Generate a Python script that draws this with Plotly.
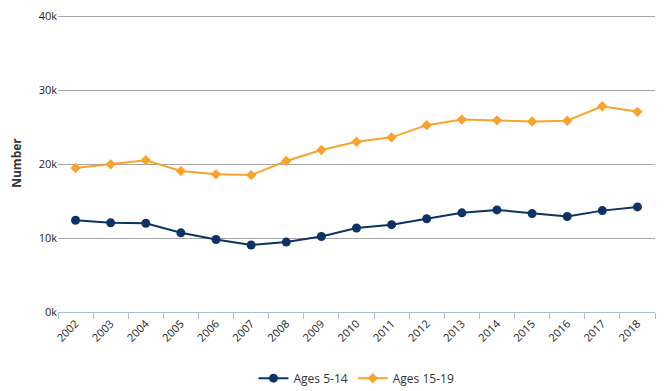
import plotly.graph_objects as go

years = [str(y) for y in range(2002, 2019)]
ages_5_14 = [12400, 12050, 12000, 10700, 9800, 9050, 9450, 10200, 11350, 11800,
             12600, 13400, 13800, 13300, 12900, 13700, 14200]
ages_15_19 = [19450, 19950, 20500, 19050, 18600, 18500, 20400, 21900, 23000, 23600,
              25250, 26000, 25900, 25750, 25850, 27800, 27050]
y_ticks = [0, 10000, 20000, 30000, 40000]
y_labels = ["0k", "10k", "20k", "30k", "40k"]

font = "Open Sans, Segoe UI, DejaVu Sans, sans-serif"

fig = go.Figure()
fig.add_trace(go.Scatter(
    x=years, y=ages_5_14, name="Ages 5-14", mode="lines+markers",
    line=dict(color="#0c3266", width=2),
    marker=dict(symbol="circle", size=9, color="#0c3266"),
))
fig.add_trace(go.Scatter(
    x=years, y=ages_15_19, name="Ages 15-19", mode="lines+markers",
    line=dict(color="#f8a32e", width=2),
    marker=dict(symbol="diamond", size=8, color="#f8a32e"),
))

# page body has an 8px margin, so the figure is sized to fit the window
fig.update_layout(
    width=662, height=383,
    margin=dict(l=50, r=15, t=6, b=79, autoexpand=False),
    paper_bgcolor="white", plot_bgcolor="white",
    font=dict(family=font, size=11, color="#222222"),
    showlegend=True,
    legend=dict(orientation="h", x=0.5, xanchor="center", y=-0.222, yanchor="middle",
                font=dict(size=12, color="#333333"), itemwidth=30, tracegroupgap=0),
)
fig.update_xaxes(
    type="category", range=[-0.5, len(years) - 0.5], tickangle=-45, ticks="outside",
    tickson="boundaries", ticklen=6, tickcolor="#a8bfd6", showline=True,
    linecolor="#a8bfd6", linewidth=1, showgrid=False,
    tickfont=dict(size=11, color="#222222"), automargin=False,
)
fig.update_yaxes(
    range=[0, 40270], tickvals=y_ticks, ticktext=y_labels,
    showgrid=True, gridcolor="#a6a6a6", gridwidth=1, zeroline=False, showline=False,
    ticks="", tickfont=dict(size=11, color="#222222"), automargin=False,
    ticklabeloverflow="allow",
    title=dict(text="<b>Number</b>", font=dict(size=12, color="#333333"), standoff=16),
)

fig.write_html("out.html")
